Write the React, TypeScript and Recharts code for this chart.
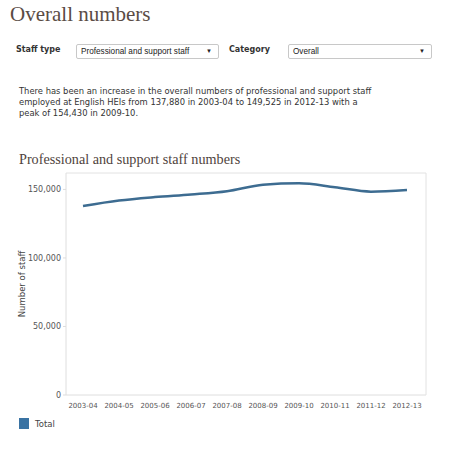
import React from 'react'
import { LineChart, Line, XAxis, YAxis } from 'recharts'

const years = ['2003-04', '2004-05', '2005-06', '2006-07', '2007-08', '2008-09', '2009-10', '2010-11', '2011-12', '2012-13']
const totals = [137880, 141900, 144400, 146300, 148700, 153400, 154430, 151600, 148400, 149525]
const yTicks = [0, 50000, 100000, 150000]

const data = years.map((year, i) => ({ year, total: totals[i] }))

const sans = '"DejaVu Sans", Verdana, sans-serif'
const serif = '"Liberation Serif", Georgia, serif'
const lineColor = '#3d6c91'

function Select({ left, width, text }: { left: number; width: number; text: string }) {
  return (
    <div style={{
      position: 'absolute', left, top: 44, width, height: 15, boxSizing: 'border-box',
      border: '1px solid #c8c8c8', borderRadius: 2, background: '#fff',
      fontFamily: '"Liberation Sans", Arial, sans-serif', fontSize: 8.2, color: '#222',
      lineHeight: '13px', paddingLeft: 4,
    }}>
      {text}
      <span style={{ position: 'absolute', right: 6, top: 0, fontSize: 6 }}>▼</span>
    </div>
  )
}

export default function App() {
  return (
    <div style={{ position: 'absolute', left: 0, top: 0, width: 457, height: 450, background: '#fff', overflow: 'hidden' }}>
      <div style={{ position: 'absolute', left: 10, top: 2, fontFamily: serif, fontSize: 21, color: '#5a4c45' }}>
        Overall numbers
      </div>

      <div style={{ position: 'absolute', left: 16, top: 45, fontFamily: sans, fontSize: 8, fontWeight: 'bold', color: '#333' }}>Staff type</div>
      <Select left={76} width={143} text="Professional and support staff" />
      <div style={{ position: 'absolute', left: 229, top: 45, fontFamily: sans, fontSize: 8, fontWeight: 'bold', color: '#333' }}>Category</div>
      <Select left={288} width={144} text="Overall" />

      <div style={{ position: 'absolute', left: 19, top: 86, fontFamily: sans, fontSize: 8.4, lineHeight: '11px', color: '#333', whiteSpace: 'nowrap' }}>
        There has been an increase in the overall numbers of professional and support staff<br />
        employed at English HEIs from 137,880 in 2003-04 to 149,525 in 2012-13 with a<br />
        peak of 154,430 in 2009-10.
      </div>

      <div style={{ position: 'absolute', left: 19, top: 151, fontFamily: serif, fontSize: 14.2, color: '#4f433d' }}>
        Professional and support staff numbers
      </div>

      <div style={{ position: 'absolute', left: 0, top: 165 }}>
        <LineChart width={457} height={255} data={data} margin={{ top: 7, right: 30, left: 0, bottom: 5 }}>
          <XAxis
            dataKey="year"
            padding={{ left: 17, right: 19 }}
            tick={{ fontSize: 7, fill: '#555', fontFamily: sans }}
            tickLine={false}
            axisLine={{ stroke: '#dedede' }}
            height={20}
            interval={0}
          />
          <XAxis xAxisId="top" orientation="top" dataKey="year" tick={false} tickLine={false} axisLine={{ stroke: '#e2e2e2' }} height={1} />
          <YAxis
            domain={[0, 162000]}
            ticks={yTicks}
            width={66}
            tick={{ fontSize: 8, fill: '#555', fontFamily: sans }}
            tickLine={{ stroke: '#ddd' }}
            tickSize={3}
            axisLine={{ stroke: '#dedede' }}
            tickFormatter={(v: number) => v.toLocaleString('en-US')}
            label={{ value: 'Number of staff', angle: -90, position: 'insideLeft', offset: 22, style: { fontSize: 8.5, fill: '#444', fontFamily: sans, textAnchor: 'middle' } }}
          />
          <YAxis yAxisId="right" orientation="right" tick={false} tickLine={false} axisLine={{ stroke: '#e2e2e2' }} width={1} />
          <Line
            type="monotone"
            dataKey="total"
            stroke={lineColor}
            strokeWidth={2.5}
            dot={false}
            isAnimationActive={false}
          />
        </LineChart>
      </div>

      <div style={{ position: 'absolute', left: 19, top: 418, display: 'flex', alignItems: 'center', fontFamily: sans, fontSize: 8.5, color: '#444' }}>
        <span style={{ width: 10, height: 11, background: '#3a73a3', marginRight: 6, display: 'inline-block' }} />
        Total
      </div>
    </div>
  )
}
